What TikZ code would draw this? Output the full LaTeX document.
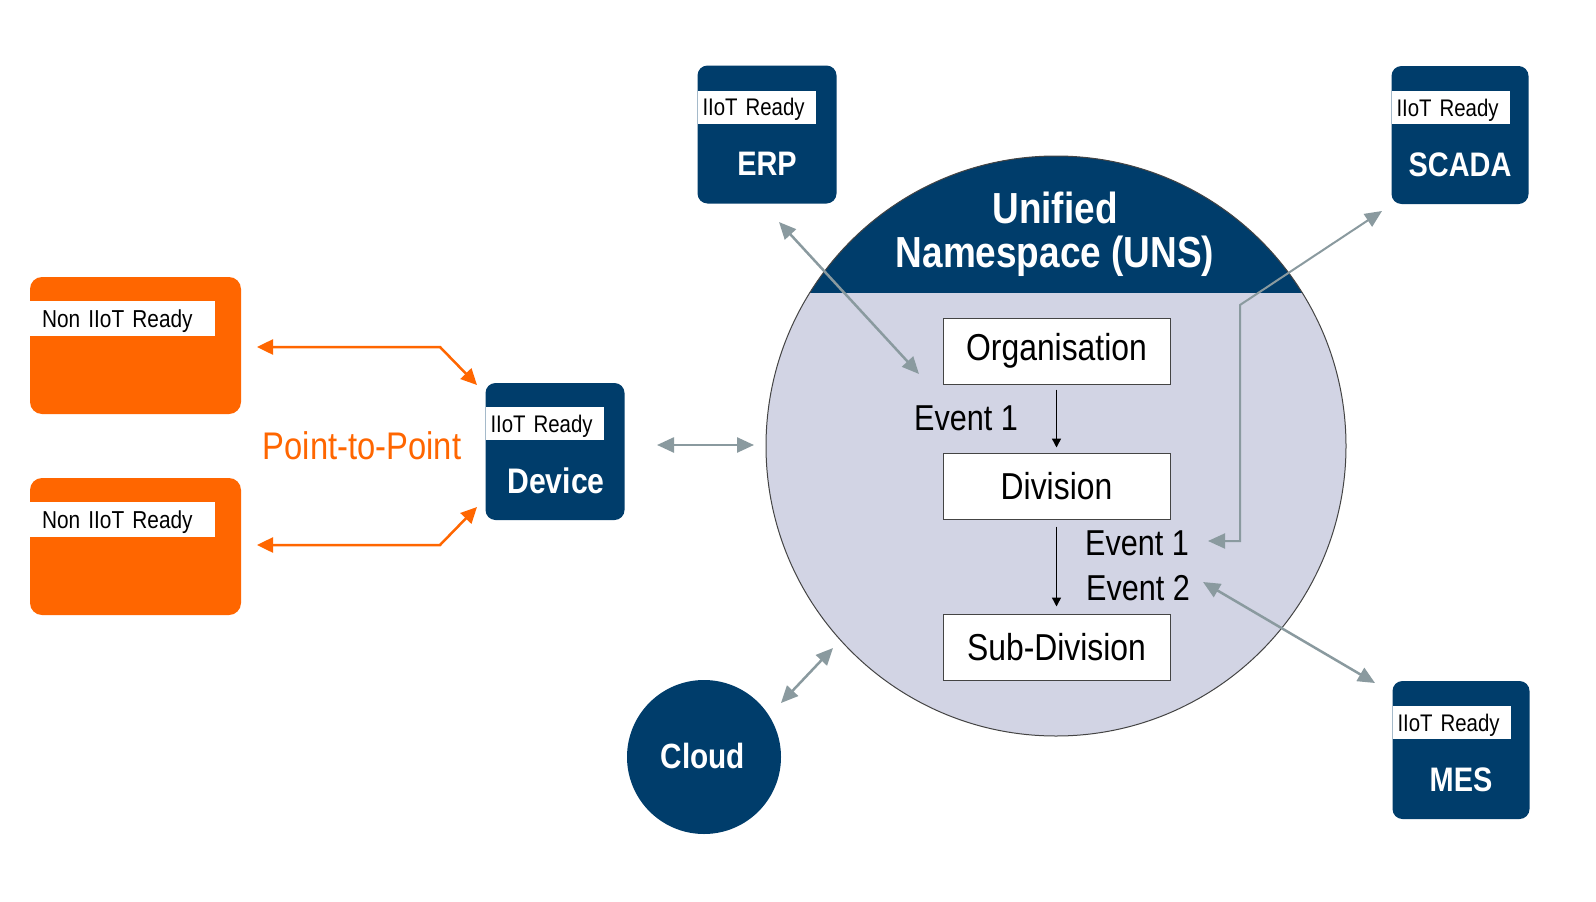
\documentclass[tikz,border=0pt]{standalone}
\usepackage{fontspec}
\setmainfont{Liberation Sans}[FakeStretch=0.85]
\usetikzlibrary{arrows.meta}
\definecolor{navy}{HTML}{003D6B}
\definecolor{orng}{HTML}{FF6600}
\definecolor{lav}{HTML}{D2D4E4}
\definecolor{agray}{HTML}{8A9A9F}
\definecolor{rim}{HTML}{444444}
\begin{document}
\begin{tikzpicture}[x=1pt,y=-1pt,
  navybox/.style={fill=navy, rounded corners=10pt, minimum width=139pt, minimum height=138pt, inner sep=0pt},
  orbox/.style={fill=orng, rounded corners=12pt, minimum width=211pt, minimum height=137pt, inner sep=0pt},
  tag/.style={fill=white, anchor=north west, minimum height=33pt, inner xsep=5pt, inner ysep=0pt, text width=108pt, text height=17pt, text depth=0pt, align=left, font=\fontsize{24}{26}\selectfont},
  ortag/.style={fill=white, anchor=north west, minimum height=35pt, inner xsep=12pt, inner ysep=0pt, text width=161pt, text height=17pt, text depth=0pt, align=left, font=\fontsize{24.5}{26}\selectfont},
  bigtxt/.style={text=white, font=\bfseries\fontsize{34}{36}\selectfont, inner sep=0pt},
  level/.style={draw=rim, fill=white, line width=1pt, minimum width=227pt, minimum height=66pt, inner sep=0pt, font=\fontsize{37.5}{39}\selectfont},
  evt/.style={font=\fontsize{36}{38}\selectfont, inner sep=0pt},
  garrow/.style={draw=agray, line width=2.5pt, {Triangle[length=17pt,width=15pt]}-{Triangle[length=17pt,width=15pt]}},
  oarrow/.style={draw=orng, line width=2.5pt, {Triangle[length=16pt,width=15pt]}-{Triangle[length=16pt,width=15pt]}},
  barrow/.style={draw=black, line width=1.4pt, -{Triangle[length=9pt,width=9pt]}}
]
\useasboundingbox (0,0) rectangle (1596,902);
\fill[white] (0,0) rectangle (1596,902);

% UNS circle
\node[circle, fill=lav, minimum size=580pt, inner sep=0pt] (uns) at (1056,446) {};
\begin{scope}
  \clip (1056,446) circle (290pt);
  \fill[navy] (700,100) rectangle (1420,293);
\end{scope}
\draw[rim, line width=1pt] (1056,446) circle (290pt);
\node[text=white, font=\bfseries\fontsize{43.5}{44}\selectfont, align=center, inner sep=0pt] (unst) at (1055,234) {Unified\\Namespace (UNS)};

% hierarchy
\node[level] (org) at (1056.5,351) {Organisation};
\node[level] (div) at (1056.5,486) {Division};
\node[level] (sub) at (1056.5,647) {Sub-Division};
\draw[barrow, shorten <=5pt, shorten >=5pt] (org) -- (div);
\draw[barrow, shorten <=7pt, shorten >=7pt] (div) -- (sub);
\node[evt] (ev0) at (966,418) {Event 1};
\node[evt] (ev1) at (1137,543) {Event 1};
\node[evt] (ev2) at (1138,588) {Event 2};

% IIoT boxes
\node[navybox] (erp) at (767,134.5) {};
\node[tag] (erpl) at ([yshift=-25pt]erp.north west) {IIoT Ready};
\node[bigtxt] (erpt) at (767,164) {ERP};

\node[navybox, minimum width=137pt] (scada) at (1460,135) {};
\node[tag] (scadal) at ([yshift=-25pt]scada.north west) {IIoT Ready};
\node[bigtxt] (scadat) at (1460,165) {SCADA};

\node[navybox, minimum height=137pt] (dev) at (555,451.5) {};
\node[tag] (devl) at ([yshift=-24pt]dev.north west) {IIoT Ready};
\node[bigtxt, font=\bfseries\fontsize{35.5}{37}\selectfont] (devt) at (556,481) {Device};

\node[navybox, minimum width=137pt] (mes) at (1461,750) {};
\node[tag] (mesl) at ([yshift=-25pt]mes.north west) {IIoT Ready};
\node[bigtxt] (mest) at (1461,780) {MES};

\node[circle, fill=navy, minimum size=154pt, inner sep=0pt] (cloud) at (704,757) {};
\node[bigtxt, font=\bfseries\fontsize{35}{37}\selectfont] (cloudt) at (703,756) {Cloud};

% Non IIoT boxes
\node[orbox] (n1) at (135.5,345.5) {};
\node[ortag] (n1l) at ([yshift=-24pt]n1.north west) {Non IIoT Ready};
\node[orbox] (n2) at (135.5,546.5) {};
\node[ortag] (n2l) at ([yshift=-24pt]n2.north west) {Non IIoT Ready};
\node[text=orng, font=\fontsize{38.5}{40}\selectfont, inner sep=0pt] (p2p) at (362,446) {Point-to-Point};

% coordinates for free ends
\coordinate (o1a) at (257,347);
\coordinate (o1b) at (440,347);
\coordinate (o1c) at (477,385);
\coordinate (o2a) at (257,545);
\coordinate (o2b) at (440,545);
\coordinate (o2c) at (477,507);
\coordinate (da) at (657,445);
\coordinate (db) at (754,445);
\coordinate (ea) at (779,222);
\coordinate (eb) at (919,374);
\coordinate (sa) at (1208,541);
\coordinate (sb) at (1240,541);
\coordinate (sc) at (1240,305);
\coordinate (sd) at (1382,211);
\coordinate (ma) at (1203,582);
\coordinate (mb) at (1375,683);
\coordinate (ca) at (833,648);
\coordinate (cb) at (781,703);

% connectors
\draw[oarrow] (o1a) -- (o1b) -- (o1c);
\draw[oarrow] (o2a) -- (o2b) -- (o2c);
\draw[garrow] (da) -- (db);
\draw[garrow] (ea) -- (eb);
\draw[garrow, line width=2pt] (sa) -- (sb) -- (sc) -- (sd);
\draw[garrow] (ma) -- (mb);
\draw[garrow] (ca) -- (cb);
\end{tikzpicture}
\end{document}
